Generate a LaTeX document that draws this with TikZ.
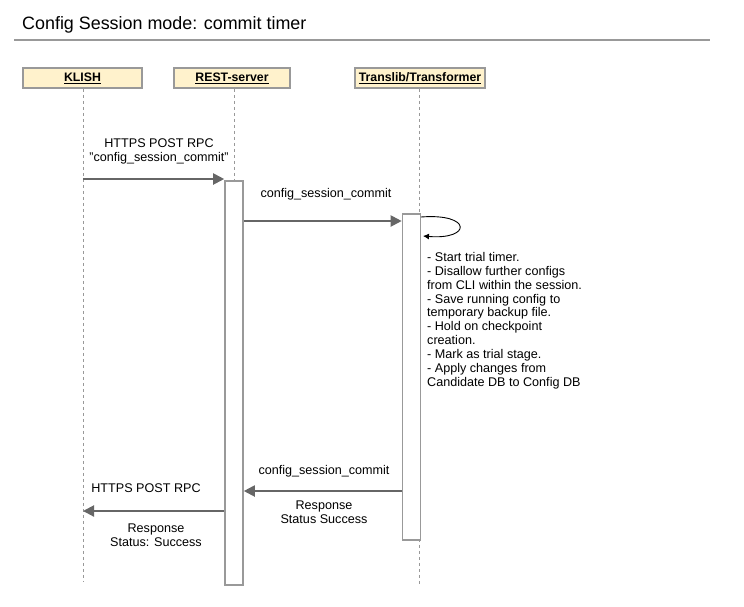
\documentclass[tikz,border=0pt]{standalone}
\usepackage{fontspec}
\setmainfont{Liberation Sans}
\usetikzlibrary{arrows.meta}
\definecolor{hdrfill}{HTML}{FFF2CC}
\definecolor{hdrline}{HTML}{999999}
\definecolor{msgline}{HTML}{666666}
\tikzset{
  hdr/.style={draw=hdrline, line width=1.6pt, fill=hdrfill, minimum height=20pt,
    inner sep=0pt, font=\fontsize{12.3}{13}\selectfont\bfseries},
  lifeline/.style={draw=hdrline, line width=1pt, dash pattern=on 3pt off 3pt},
  actbox/.style={draw=hdrline, line width=1.6pt, fill=white, minimum width=18pt, inner sep=0pt},
  msg/.style={draw=msgline, line width=2pt, -{Triangle[length=11pt,width=11pt]}},
  lbl/.style={font=\fontsize{12.6}{14}\selectfont, align=center, inner sep=0pt},
  note/.style={font=\fontsize{12.6}{13.9}\selectfont, align=left, inner sep=0pt, anchor=north west},
  selfmsg/.style={draw=black, line width=0.9pt, -{Latex[length=6pt,width=6pt]}}
}
\begin{document}
\begin{tikzpicture}[x=1pt,y=-1pt]
\useasboundingbox (0,0) rectangle (744,606);

% title and rule
\node[anchor=base west, inner sep=0pt, font=\fontsize{17.9}{20}\selectfont] (title) at (22,29) {Config Session mode: commit timer};
\draw[draw=hdrline, line width=1.6pt] (14,40) -- (710,40);

% participants
\node[hdr, minimum width=119pt] (klish) at (82.5,78) {\underline{KLISH}};
\node[hdr, minimum width=116pt] (rest) at (232,78) {\underline{REST-server}};
\node[hdr, minimum width=130pt] (trans) at (420,78) {\underline{Translib/Transformer}};

% lifelines
\coordinate (klishend) at (83,582);
\coordinate (restend) at (234,585);
\coordinate (transend) at (419,585);
\draw[lifeline] (klish.south -| klishend) -- (klishend);
\draw[lifeline] (rest.south -| restend) -- (restend);
\draw[lifeline] (trans.south -| transend) -- (transend);

% activation bars
\node[actbox, minimum height=404pt] (restact) at (234,383) {};
\node[actbox, minimum height=326pt] (transact) at (411.5,377) {};

% request from KLISH to REST-server
\coordinate (m1) at (83,179);
\draw[msg] (m1) -- (m1 -| restact.west);
\node[lbl] (m1lbl) at (159,151) {HTTPS POST RPC\\"config\_session\_commit"};

% REST-server to Translib
\coordinate (m2) at (243,221);
\draw[msg] (m2 -| restact.east) -- (m2 -| transact.west);
\node[lbl] (m2lbl) at (326,194) {config\_session\_commit};

% self call on Translib
\coordinate (s1) at (421,217);
\coordinate (s2) at (423,236);
\draw[selfmsg] (s1) .. controls (472,213) and (472,240) .. (s2);
\node[note] (notes) at (427,252) {- Start trial timer.\\- Disallow further configs\\from CLI within the session.\\- Save running config to\\temporary backup file.\\- Hold on checkpoint\\creation.\\- Mark as trial stage.\\- Apply changes from\\Candidate DB to Config DB};

% Translib reply to REST-server
\coordinate (m3) at (402,491);
\draw[msg] (m3 -| transact.west) -- (m3 -| restact.east);
\node[lbl] (m3top) at (324,471) {config\_session\_commit};
\node[lbl] (m3bot) at (324,512) {Response\\Status Success};

% REST-server reply to KLISH
\coordinate (m4) at (225,511);
\draw[msg] (m4 -| restact.west) -- (m4 -| klishend);
\node[lbl] (m4top) at (146,488) {HTTPS POST RPC};
\node[lbl] (m4bot) at (156,535) {Response\\Status: Success};
\end{tikzpicture}
\end{document}
